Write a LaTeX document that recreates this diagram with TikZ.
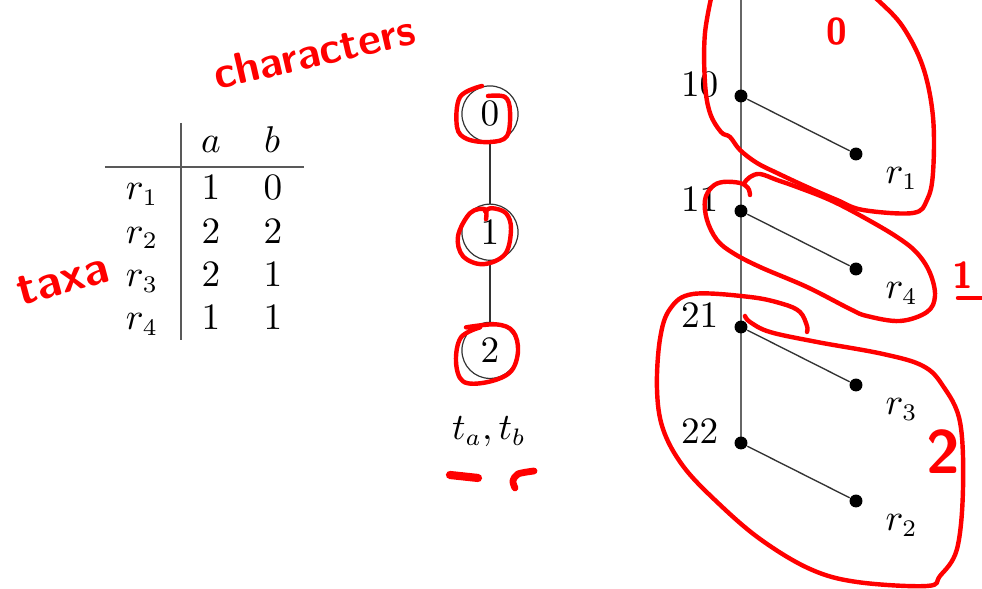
\documentclass[tikz,border=0pt]{standalone}
\usetikzlibrary{positioning,calc}
\tikzset{
  dotn/.style={circle, fill=black, inner sep=0pt, minimum size=3.8pt},
  circn/.style={draw=black!80, circle, inner sep=0pt, minimum size=16.5pt, line width=0.35pt},
  redpen/.style={draw=red, line width=1.3pt, line cap=round, line join=round},
  hand/.style={text=red, inner sep=0pt}
}

\begin{document}
\begin{tikzpicture}[x=0.294pt, y=-0.294pt, font=\fontsize{10.5}{12}\selectfont,
  rule/.style={draw=black!65, line width=0.45pt},
  trunk/.style={draw=black!60, line width=0.6pt},
  leafe/.style={draw=black!80, line width=0.4pt}]
\useasboundingbox (0,0) rectangle (982,589);
% table of characters
\node[anchor=base] (ha) at (211,153) {$a$};
\node[anchor=base] (hb) at (272,153) {$b$};
\foreach \r/\va/\vb [count=\i from 0] in {1/1/0, 2/2/2, 3/2/1, 4/1/1} {
  \node[anchor=base] (tr\r) at (142,200+43.3*\i) {$r_\r$};
  \node[anchor=base] (ta\r) at (211,200+43.3*\i) {$\va$};
  \node[anchor=base] (tb\r) at (273,200+43.3*\i) {$\vb$};
}
\coordinate (vtop) at (181,123);
\coordinate (vbot) at (181,340);
\coordinate (hlft) at (105,167);
\coordinate (hrgt) at (304,167);
\draw[rule] (vtop) -- (vbot);
\draw[rule] (hlft) -- (hrgt);

% state tree
\node[circn] (c0) at (490,114) {$0$};
\node[circn, below=17.9pt of c0] (c1) {$1$};
\node[circn, below=17.9pt of c1] (c2) {$2$};
\draw[leafe] (c0) -- (c1) -- (c2);
\node[anchor=base] (tab) at (489,440) {$t_a, t_b$};

% tree of taxa
\coordinate (top) at (741,0);
\coordinate (bot) at (741,443);
\draw[trunk] (top) -- (bot);
\foreach \n/\lf/\y in {10/1/96, 11/4/211, 21/3/327, 22/2/443} {
  \node[dotn] (d\n) at (741,\y) {};
  \node[dotn] (l\n) at (856,\y+58) {};
  \draw[leafe] (d\n) -- (l\n);
  \node[anchor=base east, inner sep=0pt] at ($(d\n)+(-22,1)$) {$\n$};
  \node[anchor=base west, inner sep=0pt] at ($(l\n)+(29,30)$) {$r_\lf$};
}

% red annotations
\begin{scope}
\clip (0,0) rectangle (982,589);
\draw[redpen] plot[smooth, tension=0.6] coordinates {(714,-15) (705,33) (705,83) (710,113)
  (721,132) (730,137) (740,150) (757,163) (777,173) (807,187) (837,200) (863,210) (913,213)
  (927,200) (933,173) (933,117) (923,67) (903,27) (880,2) (865,-10)};
\end{scope}
\draw[redpen] plot[smooth, tension=0.6] coordinates {(750,195) (748,188) (740,183) (723,182)
  (712,187) (705,200) (707,220) (717,240) (733,253) (760,267) (807,287) (850,309) (867,316)
  (900,321) (927,312) (935,296) (930,273) (917,253) (897,237) (863,217) (830,200) (797,187)
  (777,180) (760,174) (750,177) (745,182)};
\draw[redpen] plot[smooth, tension=0.6] coordinates {(807,332) (807,326) (800,312) (783,304)
  (750,297) (693,294) (670,309) (660,339) (657,389) (663,429) (683,466) (717,502) (760,539)
  (810,569) (857,582) (927,586) (940,576) (957,549) (963,489) (960,422) (943,386) (923,366)
  (883,354) (817,342) (770,332) (750,322) (745,316)};
\draw[redpen, shift={(c0)}] plot[smooth, tension=0.6] coordinates {(-8,-28) (-30,-17) (-33,13)
  (-23,25) (0,28) (17,22) (20,-3) (15,-17) (-2,-18)};
\draw[redpen, shift={(c1)}] plot[smooth, tension=0.6] coordinates {(-4,-13) (-5,-23) (-20,-19)
  (-32,4) (-27,24) (-7,32) (15,22) (21,-3) (16,-19) (2,-24) (-5,-21)};
\draw[redpen, shift={(c2)}] plot[smooth, tension=0.6] coordinates {(-24,-23) (6,-26) (23,-19)
  (28,1) (20,22) (-4,32) (-27,31) (-34,11) (-29,-13) (-10,-23)};
\draw[redpen, line width=2.4pt] (450,475) -- (478,478);
\draw[redpen, line width=2pt] plot[smooth] coordinates {(534,471) (518,474) (513,481) (515,488)};
\node[hand, rotate=13, font=\sffamily\bfseries\fontsize{13}{13}\selectfont] (chr) at (314,52) {characters};
\node[hand, rotate=15, font=\sffamily\bfseries\fontsize{14}{14}\selectfont] (txa) at (63,280) {taxa};
\node[hand, font=\sffamily\bfseries\fontsize{11}{11}\selectfont] (g0) at (837,32) {0};
\node[hand, font=\sffamily\bfseries\fontsize{11}{11}\selectfont] (g1) at (963,275) {1};
\node[hand, font=\sffamily\bfseries\fontsize{18}{18}\selectfont] (g2) at (943,452) {2};
\draw[redpen] (958,298) -- (982,298);
\end{tikzpicture}
\end{document}
